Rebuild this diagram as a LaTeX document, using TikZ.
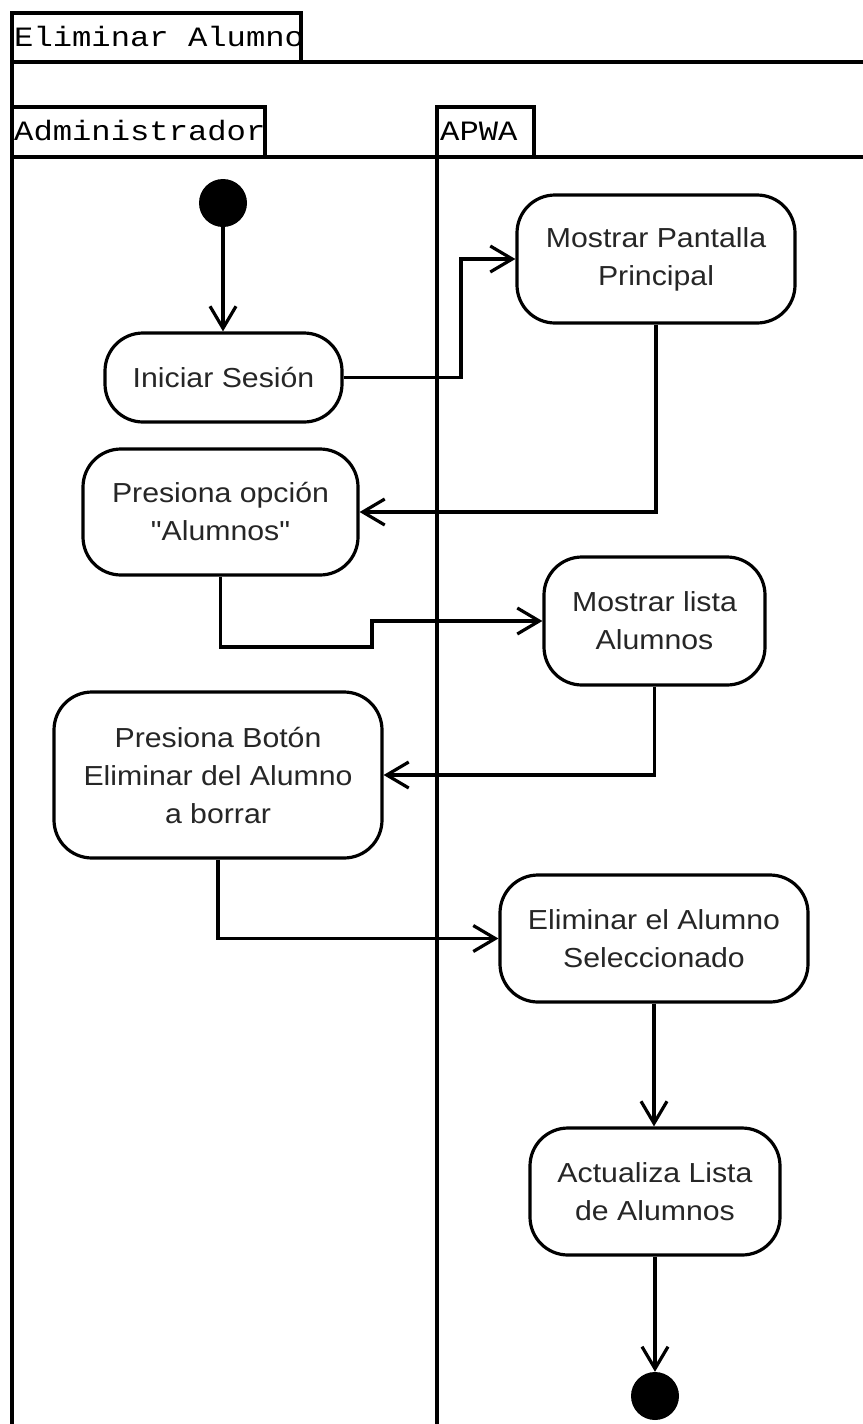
\documentclass[tikz,border=0pt]{standalone}
\usepackage{fontspec}
\setmainfont{Liberation Sans}[FakeStretch=1.1]
\newfontfamily\actfont{Liberation Sans}[FakeStretch=1.1]
\newfontfamily\lanefont{Liberation Mono}[FakeStretch=1.15]
\usetikzlibrary{arrows.meta}
\begin{document}
\begin{tikzpicture}[x=1pt,y=-1pt,
  act/.style={draw, line width=3.2pt, rounded corners=38pt, align=center,
    font=\actfont\fontsize{27.5}{38}\selectfont, inner sep=0pt, text=black!85},
  arr/.style={line width=3.2pt, -{Straight Barb[length=22pt,width=26pt,line width=3.2pt]}},
  frame/.style={line width=3.5pt},
  lbl/.style={font=\lanefont\fontsize{28}{30}\selectfont, anchor=base west, inner sep=0pt},
  dot/.style={circle, fill=black, minimum size=48pt, inner sep=0pt}]
\useasboundingbox (0,0) rectangle (862,1424);
\fill[white] (0,0) rectangle (862,1424);

% labels (drawn first so the tab border overlays them)
\node[lbl] (title) at (14,46) {Eliminar Alumno};
\node[lbl] (adm) at (14,140) {Administrador};
\node[lbl] (apwa) at (440,140) {APWA};

% frame and lanes
\draw[frame] (12,1440) -- (12,13) -- (301,13) -- (301,62);
\draw[frame] (12,62) -- (880,62);
\draw[frame] (12,107) -- (265,107) -- (265,157);
\draw[frame] (12,157) -- (880,157);
\draw[frame] (437,1440) -- (437,107) -- (534,107) -- (534,157);

% nodes
\node[dot] (init) at (223,203) {};
\node[act, minimum width=237pt, minimum height=89pt] (ini) at (223.5,377.5) {Iniciar Sesión};
\node[act, minimum width=278pt, minimum height=128pt] (mp) at (656,259) {Mostrar Pantalla\\Principal};
\node[act, minimum width=275pt, minimum height=126pt] (po) at (220.5,512) {Presiona opción\\"Alumnos"};
\node[act, minimum width=221pt, minimum height=128pt] (ml) at (654.5,621) {Mostrar lista\\Alumnos};
\node[act, minimum width=328pt, minimum height=166pt] (pb) at (218,775) {Presiona Botón\\Eliminar del Alumno\\a borrar};
\node[act, minimum width=308pt, minimum height=127pt] (el) at (654,938.5) {Eliminar el Alumno\\Seleccionado};
\node[act, minimum width=250pt, minimum height=127pt] (au) at (655,1191.5) {Actualiza Lista\\de Alumnos};
\node[dot] (fin) at (655,1396) {};

% helper coordinates
\coordinate (k1) at (461,0);
\coordinate (k2) at (372,647);

% connectors
\draw[arr] (init.south) -- (init.south |- ini.north);
\draw[arr] (ini.east) -- (ini.east -| k1) |- (mp.west);
\draw[arr] (mp.south) |- (po.east);
\draw[arr] (po.south) |- (k2) |- (ml.west);
\draw[arr] (ml.south) |- (pb.east);
\draw[arr] (pb.south) |- (el.west);
\draw[arr] (el.south) -- (el.south |- au.north);
\draw[arr] (au.south) -- (au.south |- fin.north);
\end{tikzpicture}
\end{document}
